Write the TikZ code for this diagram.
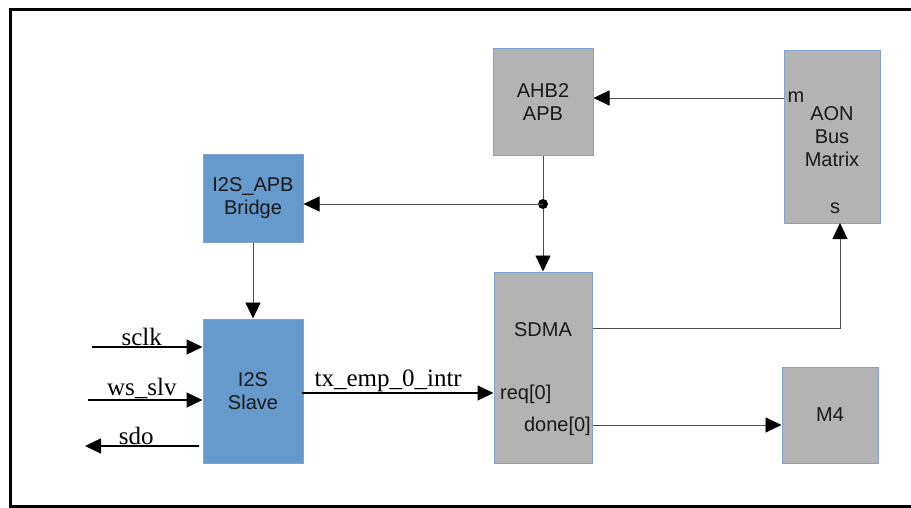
\documentclass[tikz,border=0pt]{standalone}
\usepackage{fontspec}
\setmainfont{Liberation Serif}
\setsansfont{Liberation Sans}
\usetikzlibrary{arrows.meta}

\definecolor{blkblue}{HTML}{6699CC}
\definecolor{blkgray}{HTML}{B3B3B3}
\definecolor{blkedge}{HTML}{7FA3D0}
\definecolor{wire}{HTML}{4D4D4D}

\newcommand{\boxfont}{\sffamily\fontsize{20}{23}\selectfont}
\newcommand{\sigfont}{\rmfamily\fontsize{25}{28}\selectfont}

\begin{document}
\begin{tikzpicture}[x=1pt,y=-1pt,line join=miter,
    blk/.style={draw=blkedge, line width=1pt, inner sep=0pt, align=center,
                font=\boxfont, text=black!90},
    blueblk/.style={blk, fill=blkblue},
    grayblk/.style={blk, fill=blkgray},
    conn/.style={draw=wire, line width=0.9pt,
                 -{Triangle[length=16pt,width=15pt,color=black]}},
    sig/.style={draw=black, line width=1.3pt,
                -{Triangle[length=16pt,width=15pt]}},
    siglbl/.style={font=\sigfont, inner sep=1pt, above}]
    \useasboundingbox (0,0) rectangle (911,508);

    % ramecek (vpravo otevreny)
    \draw[line width=3pt] (911,10) -- (10,10) -- (10,506) -- (911,506);

    % bloky
    \node[grayblk, minimum width=100, minimum height=107] (ahb) at (543,102.5) {AHB2\\APB};
    \node[grayblk, minimum width=96, minimum height=172] (aon) at (832,137) {AON\\Bus\\Matrix};
    \node[blueblk, minimum width=100, minimum height=87] (bridge) at (253,198.5) {I2S\_APB\\Bridge};
    \node[blueblk, minimum width=100, minimum height=144] (slave) at (253,391) {I2S\\Slave};
    \node[grayblk, minimum width=98, minimum height=191] (sdma) at (543,367.5) {};
    \node[grayblk, minimum width=96, minimum height=96] (m4) at (830,415) {M4};

    % popisky portu
    \node[font=\boxfont, text=black!90] (sdmalbl) at (543,330) {SDMA};
    \node[font=\boxfont, text=black!90, anchor=west, inner sep=0pt] (req) at (500,394) {req[0]};
    \node[font=\boxfont, text=black!90, anchor=east, inner sep=0pt] (done) at (591,426) {done[0]};
    \node[font=\boxfont, text=black!90, inner sep=0pt] (mlbl) at (796,97) {m};
    \node[font=\boxfont, text=black!90, inner sep=0pt] (slbl) at (835,208) {s};

    % body spoju
    \coordinate (mport) at (784,98);
    \coordinate (split) at (543,204);
    \coordinate (sdmaout) at (593,328);
    \coordinate (sport) at (840,223);
    \coordinate (doneout) at (593,425);
    \coordinate (sclkin) at (92,347);
    \coordinate (wsin) at (88,400);
    \coordinate (sdoout) at (199,446);
    \coordinate (sdoend) at (85,446);
    \coordinate (txout) at (302,393);

    % AON -> AHB2APB
    \draw[conn] (mport) -- (mport -| ahb.east);

    % AHB2APB -> SDMA a vetev do mostu
    \draw[conn] (ahb.south) -- (sdma.north);
    \fill (split) circle (5);
    \draw[conn] (split) -- (split -| bridge.east);
    \draw[conn] (bridge.south) -- (slave.north);

    % SDMA -> AON (s) a done[0] -> M4
    \draw[conn] (sdmaout) -| (sport);
    \draw[conn] (doneout) -- (doneout -| m4.west);

    % signaly I2S
    \draw[sig] (sclkin) -- node[siglbl, pos=0.45] (sclk) {sclk} (sclkin -| slave.west);
    \draw[sig] (wsin) -- node[siglbl, pos=0.47] (ws) {ws\_slv} (wsin -| slave.west);
    \draw[sig] (sdoout) -- node[siglbl, pos=0.55] (sdo) {sdo} (sdoend);
    \draw[sig] (txout) -- node[siglbl, pos=0.45] (tx) {tx\_emp\_0\_intr} (txout -| sdma.west);
\end{tikzpicture}
\end{document}
